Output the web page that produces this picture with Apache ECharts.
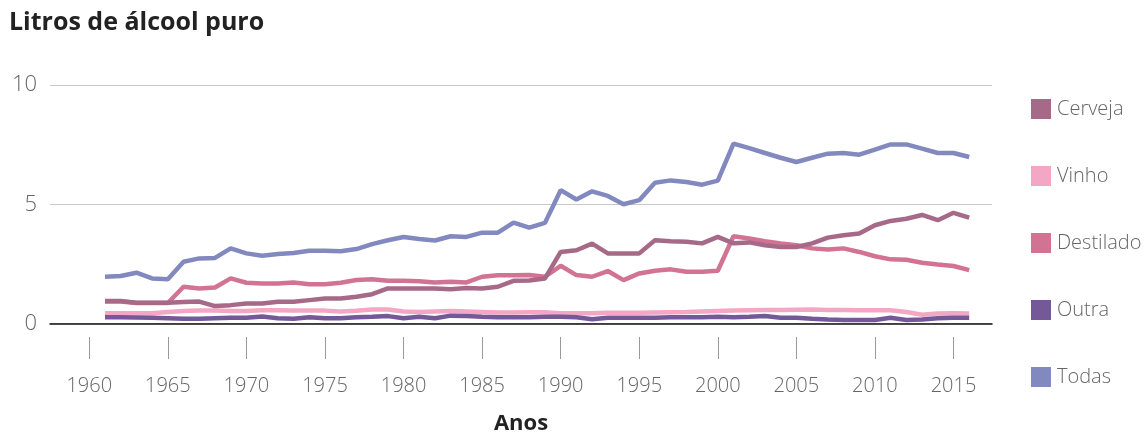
<!DOCTYPE html>
<html>
<head>
<meta charset="utf-8">
<script src="https://cdn.jsdelivr.net/npm/echarts@6/dist/echarts.min.js"></script>
<style>
html,body{margin:0;padding:0;background:#fff;}
#chart{width:1144px;height:433px;}
</style>
</head>
<body>
<div id="chart"></div>
<script>
var years = [1961,1962,1963,1964,1965,1966,1967,1968,1969,
1970,1971,1972,1973,1974,1975,1976,1977,1978,1979,
1980,1981,1982,1983,1984,1985,1986,1987,1988,1989,
1990,1991,1992,1993,1994,1995,1996,1997,1998,1999,
2000,2001,2002,2003,2004,2005,2006,2007,2008,2009,
2010,2011,2012,2013,2014,2015,2016];

var tickYears = [1960,1965,1970,1975,1980,1985,1990,1995,2000,2005,2010,2015];
var yTicks = [0,5,10];

var cerveja = [0.94,0.94,0.87,0.87,0.87,0.90,0.92,0.73,0.77,
0.84,0.84,0.91,0.91,0.98,1.05,1.05,1.12,1.23,1.47,
1.47,1.47,1.47,1.44,1.49,1.47,1.54,1.79,1.80,1.89,
3.00,3.07,3.35,2.94,2.94,2.94,3.49,3.45,3.43,3.36,
3.63,3.36,3.40,3.28,3.21,3.21,3.36,3.60,3.70,3.77,
4.12,4.30,4.39,4.55,4.33,4.64,4.44];

var vinho = [0.43,0.43,0.43,0.43,0.48,0.52,0.55,0.55,0.52,
0.52,0.56,0.56,0.55,0.54,0.54,0.50,0.53,0.59,0.59,
0.50,0.48,0.50,0.52,0.50,0.48,0.46,0.46,0.47,0.47,
0.43,0.43,0.43,0.45,0.45,0.45,0.46,0.47,0.48,0.50,
0.52,0.54,0.56,0.57,0.57,0.58,0.59,0.57,0.57,0.56,
0.56,0.56,0.48,0.37,0.42,0.43,0.42];

var destilado = [0.92,0.92,0.86,0.86,0.86,1.54,1.47,1.51,1.89,
1.71,1.68,1.68,1.72,1.65,1.65,1.71,1.82,1.86,1.79,
1.79,1.77,1.72,1.75,1.72,1.96,2.02,2.02,2.03,1.96,
2.42,2.03,1.96,2.20,1.82,2.10,2.21,2.27,2.17,2.17,
2.21,3.66,3.56,3.45,3.36,3.28,3.15,3.10,3.15,3.00,
2.82,2.69,2.67,2.55,2.47,2.41,2.24];

var outra = [0.26,0.26,0.25,0.24,0.22,0.20,0.20,0.22,0.24,
0.24,0.29,0.22,0.20,0.26,0.22,0.22,0.26,0.28,0.31,
0.22,0.28,0.22,0.33,0.31,0.28,0.26,0.26,0.26,0.28,
0.28,0.26,0.18,0.24,0.24,0.24,0.24,0.26,0.26,0.26,
0.28,0.26,0.28,0.31,0.24,0.24,0.20,0.17,0.15,0.15,
0.15,0.24,0.15,0.17,0.22,0.24,0.24];

var todas = [1.96,1.99,2.13,1.89,1.86,2.59,2.73,2.75,3.15,
2.94,2.84,2.91,2.96,3.05,3.05,3.03,3.12,3.33,3.49,
3.63,3.54,3.48,3.66,3.63,3.81,3.81,4.23,4.02,4.22,
5.59,5.20,5.54,5.35,5.00,5.17,5.90,6.00,5.93,5.82,
5.99,7.54,7.35,7.15,6.95,6.77,6.95,7.12,7.15,7.08,
7.29,7.51,7.51,7.33,7.15,7.15,6.98];

var seriesNames = ['Cerveja','Vinho','Destilado','Outra','Todas'];
var colors = {Cerveja:'#a66987', Vinho:'#f3a7c4', Destilado:'#d27394', Outra:'#745999', Todas:'#8289bf'};
var values = {Cerveja:cerveja, Vinho:vinho, Destilado:destilado, Outra:outra, Todas:todas};
var drawOrder = ['Vinho','Destilado','Cerveja','Outra','Todas'];

function pairs(arr){ return years.map(function(y,i){ return [y, arr[i]]; }); }

var FONT = '"Open Sans", sans-serif';
var chart = echarts.init(document.getElementById('chart'), null, {renderer:'canvas'});
chart.setOption({
  animation:false,
  title:{text:'Litros de álcool puro', left:4, top:5,
    textStyle:{fontFamily:FONT, fontWeight:'bold', fontSize:25, color:'#222'}},
  legend:{
    orient:'vertical', left:1026, top:94, itemWidth:20, itemHeight:20, itemGap:47,
    icon:'rect', data:seriesNames,
    textStyle:{fontFamily:FONT, fontWeight:300, fontSize:20, color:'#666', padding:[0,0,0,1]}
  },
  grid:{left:50, right:152, top:85, bottom:109.5, outerBoundsMode:'none', containLabel:false},
  xAxis:[{
    type:'value', min:1957.5, max:2017.45,
    axisLine:{show:true, lineStyle:{color:'#111', width:1.5}},
    axisTick:{show:false}, axisLabel:{show:false}, splitLine:{show:false},
    name:'Anos', nameLocation:'middle', nameGap:89,
    nameTextStyle:{fontFamily:FONT, fontWeight:'bold', fontSize:22, color:'#222'}
  },{
    type:'value', min:1957.5, max:2017.45, position:'bottom', offset:13.5,
    axisLine:{show:false},
    axisTick:{show:true, customValues:tickYears, length:22, lineStyle:{color:'#999', width:1}},
    axisLabel:{show:true, customValues:tickYears, margin:39, fontFamily:FONT, fontWeight:300, fontSize:20, color:'#666',
      formatter:function(v){return String(v);}},
    splitLine:{show:false}
  }],
  yAxis:{
    type:'value', min:0, max:10, interval:5,
    axisLine:{show:false}, axisTick:{show:false},
    axisLabel:{margin:13, fontFamily:FONT, fontWeight:300, fontSize:22, color:'#666'},
    splitLine:{lineStyle:{color:'#c8c8c8', width:1}}
  },
  series: drawOrder.map(function(n){
    return {name:n, type:'line', xAxisIndex:0, data:pairs(values[n]), showSymbol:false, symbol:'none',
      color:colors[n], lineStyle:{width:4.5, color:colors[n]}, emphasis:{disabled:true}};
  })
});
</script>
</body>
</html>
